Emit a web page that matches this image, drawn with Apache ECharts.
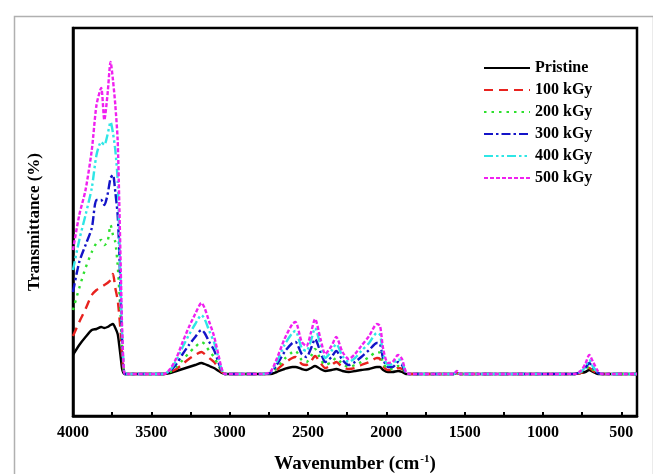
<!DOCTYPE html>
<html>
<head>
<meta charset="utf-8">
<script src="https://cdn.jsdelivr.net/npm/echarts@6/dist/echarts.min.js"></script>
<style>
html,body{margin:0;padding:0;background:#fff;}
#c{width:653px;height:474px;}
</style>
</head>
<body>
<div id="c"></div>
<script>
// Wavenumbers (cm-1)
const wavenumbers = [
  4000, 3960, 3920, 3880, 3850, 3820, 3800, 3780, 3760, 3745, 3730, 3715, 3705, 3695, 3685, 3670, 3650,
  3450,
  3420, 3380, 3340, 3300, 3260, 3220, 3180, 3160, 3130, 3100, 3070, 3050, 3030,
  2790, 2740, 2700, 2650, 2600, 2580, 2540, 2510, 2480, 2455, 2420, 2390, 2350, 2320, 2280, 2240, 2200, 2160, 2110, 2060, 2040, 2020, 1990, 1960, 1925, 1900, 1875, 1850,
  1570, 1550, 1530,
  800, 760, 730, 705, 680, 650, 620,
  400
];
const pristine = [
  19, 29, 37, 44, 45, 47, 46, 47, 49, 50, 46, 40, 29, 16, 4, 0, 0,
  0,
  0, 1, 3, 5, 7, 9, 11, 10, 8, 6, 3, 1, 0,
  0, 0, 2, 5, 7, 7, 5, 4, 6, 8, 5, 3, 4, 5, 3, 2, 3, 4, 5, 7, 7, 4, 2, 2, 3, 2, 0, 0,
  0, 1, 0,
  0, 1, 2, 4, 2, 0, 0,
  0
];
const kGy100 = [
  38, 52, 65, 79, 84, 87, 89, 91, 94, 100, 86, 74, 59, 39, 14, 0, 0,
  0,
  0, 2, 5, 10, 15, 19, 22, 20, 16, 12, 6, 2, 0,
  0, 1, 4, 11, 16, 17, 10, 9, 13, 18, 11, 6, 9, 12, 7, 5, 6, 9, 12, 16, 15, 8, 4, 4, 6, 5, 1, 0,
  0, 1, 0,
  0, 1, 3, 6, 3, 1, 0,
  0
];
const kGy200 = [
  64, 86, 106, 122, 131, 134, 129, 132, 149, 139, 132, 109, 84, 56, 24, 0, 0,
  0,
  0, 2, 7, 14, 21, 27, 32, 30, 23, 17, 8, 2, 0,
  0, 1, 6, 15, 22, 23, 14, 12, 18, 25, 15, 9, 12, 16, 10, 7, 9, 12, 17, 22, 21, 11, 5, 5, 8, 6, 1, 0,
  0, 1, 0,
  0, 2, 4, 8, 4, 1, 0,
  0
];
const kGy300 = [
  82, 112, 129, 146, 174, 174, 169, 179, 196, 199, 182, 159, 124, 74, 29, 0, 0,
  0,
  0, 3, 10, 20, 29, 37, 44, 41, 32, 24, 11, 3, 0,
  0, 1, 9, 22, 31, 32, 20, 17, 26, 35, 22, 12, 17, 23, 14, 9, 12, 17, 24, 31, 30, 15, 7, 7, 12, 9, 1, 0,
  0, 2, 0,
  0, 2, 6, 11, 6, 1, 0,
  0
];
const kGy400 = [
  104, 134, 159, 186, 219, 232, 229, 239, 252, 241, 224, 194, 139, 84, 34, 0, 0,
  0,
  0, 4, 14, 27, 39, 50, 59, 55, 43, 32, 15, 4, 0,
  0, 2, 12, 29, 41, 43, 26, 23, 34, 46, 29, 16, 23, 30, 18, 12, 16, 23, 31, 41, 39, 20, 9, 10, 15, 12, 2, 0,
  0, 2, 0,
  0, 2, 7, 14, 7, 2, 0,
  0
];
const kGy500 = [
  124, 159, 184, 224, 269, 286, 254, 279, 312, 294, 269, 234, 174, 104, 39, 0, 0,
  0,
  0, 5, 16, 32, 47, 60, 71, 66, 52, 38, 18, 5, 0,
  0, 2, 15, 35, 50, 52, 32, 28, 42, 55, 35, 20, 28, 37, 22, 15, 20, 28, 38, 50, 48, 25, 11, 12, 19, 15, 2, 0,
  0, 3, 0,
  0, 3, 10, 19, 12, 3, 0,
  0
];
const seriesNames = ['Pristine', '100 kGy', '200 kGy', '300 kGy', '400 kGy', '500 kGy'];
const seriesValues = [pristine, kGy100, kGy200, kGy300, kGy400, kGy500];
const majorTicks = [4000, 3500, 3000, 2500, 2000, 1500, 1000, 500];
const allTicks = [4000, 3750, 3500, 3250, 3000, 2750, 2500, 2250, 2000, 1750, 1500, 1250, 1000, 750, 500];

const colors = ['#000000', '#e8221e', '#2ee02e', '#1414c8', '#2ee6e6', '#f020f0'];
const dashes = ['solid', [9, 6], [2.5, 5], [9, 3, 2.5, 3], [9, 3, 2.5, 3, 2.5, 3], [4, 2]];

const chart = echarts.init(document.getElementById('c'), null, {renderer: 'canvas'});
const font = '"Liberation Serif","Times New Roman",serif';

const series = seriesNames.map((n, i) => ({
  name: n,
  type: 'line',
  showSymbol: false,
  symbol: 'none',
  smooth: 0.25,
  animation: false,
  data: wavenumbers.map((w, j) => [w, seriesValues[i][j]]),
  lineStyle: {color: colors[i], width: 2.4, type: dashes[i]},
  itemStyle: {color: colors[i]},
  z: 2 + i
}));

chart.setOption({
  animation: false,
  backgroundColor: '#fff',
  graphic: [{
    type: 'rect', left: 12, top: 14,
    shape: {width: 639, height: 470},
    style: {fill: 'none', stroke: '#b0b0b0', lineWidth: 1.5},
    silent: true, z: -1
  }],
  grid: {
    left: 73, right: 16, top: 28, bottom: 58,
    outerBoundsMode: 'none', containLabel: false,
    show: true, borderColor: '#000', borderWidth: 2.5, backgroundColor: 'transparent'
  },
  legend: {
    orient: 'vertical',
    left: 483, top: 60, padding: 0,
    itemWidth: 46, itemHeight: 14, itemGap: 6,
    itemStyle: {opacity: 0},
    textStyle: {fontFamily: font, fontWeight: 'bold', fontSize: 16, color: '#000'},
    data: seriesNames
  },
  xAxis: {
    type: 'value', min: 400, max: 4000, inverse: true,
    axisLine: {show: true, onZero: false, lineStyle: {color: '#000', width: 2.5}},
    axisTick: {show: true, inside: true, length: 4, customValues: allTicks, lineStyle: {color: '#000', width: 2}},
    axisLabel: {show: true, customValues: majorTicks, margin: 9, formatter: v => String(v), fontFamily: font, fontWeight: 'bold', fontSize: 16, color: '#000'},
    splitLine: {show: false},
    name: '{a|Wavenumber (cm}{s|-1}{a|)}',
    nameLocation: 'middle', nameGap: 38,
    nameTextStyle: {
      rich: {
        a: {fontFamily: font, fontWeight: 'bold', fontSize: 19, color: '#000'},
        s: {fontFamily: font, fontWeight: 'bold', fontSize: 11, color: '#000', verticalAlign: 'top', padding: [0, 0, 10, 1]}
      }
    }
  },
  yAxis: {
    type: 'value', min: -42, max: 346,
    axisLine: {show: true, onZero: false, lineStyle: {color: '#000', width: 2.5}},
    axisTick: {show: false},
    axisLabel: {show: false},
    splitLine: {show: false},
    name: 'Transmittance (%)',
    nameLocation: 'middle', nameGap: 30, nameRotate: 90,
    nameTextStyle: {fontFamily: font, fontWeight: 'bold', fontSize: 17, color: '#000'}
  },
  series: series
});
</script>
</body>
</html>
